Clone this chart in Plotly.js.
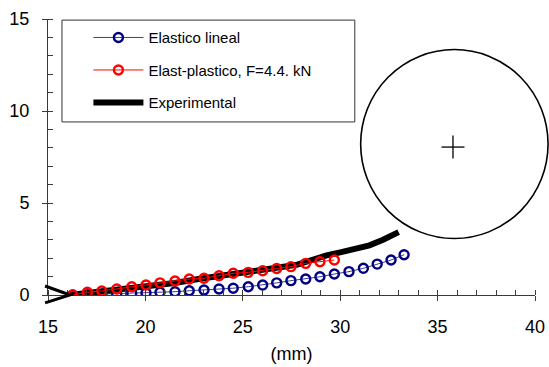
<!DOCTYPE html>
<html>
<head>
<meta charset="utf-8">
<script src="https://cdn.plot.ly/plotly-3.0.1.min.js"></script>
<style>html,body{margin:0;padding:0;background:#fff;}#chart{width:549px;height:367px;}</style>
</head>
<body>
<div id="chart"></div>
<script>
// ---- data ----
var xElastico = [16.27,17.02,17.76,18.53,19.30,20.03,20.75,21.52,22.25,23.01,23.78,24.51,25.28,26.02,26.74,27.47,28.23,28.96,29.70,30.45,31.19,31.90,32.61,33.28];
var yElastico = [0.00,0.02,0.04,0.06,0.09,0.12,0.15,0.18,0.23,0.27,0.33,0.37,0.45,0.54,0.66,0.78,0.87,0.99,1.14,1.27,1.45,1.68,1.90,2.19];
var xPlastico = [16.27,17.02,17.76,18.53,19.30,20.03,20.75,21.52,22.25,23.01,23.78,24.51,25.28,26.02,26.74,27.47,28.23,28.96,29.70];
var yPlastico = [0.00,0.15,0.22,0.33,0.45,0.54,0.66,0.76,0.87,0.91,1.05,1.18,1.23,1.32,1.44,1.54,1.72,1.81,1.90];
var xExperimental = [16.13,17.0,18.5,20.0,21.5,22.8,24.0,25.0,26.0,27.0,27.8,28.5,29.3,30.0,30.8,31.5,32.2,33.0];
var yExperimental = [0.00,0.10,0.27,0.45,0.65,0.88,1.05,1.17,1.35,1.52,1.65,1.90,2.15,2.32,2.50,2.70,3.00,3.42];
var seriesNames = ["Elastico lineal", "Elast-plastico, F=4.4. kN", "Experimental"];
var xTickVals = [15,20,25,30,35,40];
var yTickVals = [0,5,10,15];
var xRange = [15,40];
var yRange = [0,15];
// decorations (data units)
var circleBox = {x0:31.05, x1:40.67, y0:3.07, y1:13.34};
var crossCenter = {x:35.79, y:8.04, dx:0.59, dy:0.625};
var wedge = {xBack:14.85, xTip:16.13, yTop:0.49, yTip:0, yBot:-0.43};

function px(v){ return (v - xRange[0])/(xRange[1]-xRange[0]); }
function py(v){ return (v - yRange[0])/(yRange[1]-yRange[0]); }

var FONT = "Arial, 'Liberation Sans', sans-serif";
var AX = "#3a3a3a";

var traces = [
  {x:xElastico, y:yElastico, name:seriesNames[0], type:"scatter", mode:"lines+markers",
   line:{color:"#3a3a9a", width:1},
   marker:{symbol:"circle-open", size:9, color:"#000080", line:{width:2.4, color:"#000080"}},
   legendgroup:"a", legendrank:1, hoverinfo:"skip"},
  {x:xExperimental, y:yExperimental, name:seriesNames[2], type:"scatter", mode:"lines",
   line:{color:"#000000", width:6},
   legendgroup:"c", legendrank:3, hoverinfo:"skip"},
  {x:xPlastico, y:yPlastico, name:seriesNames[1], type:"scatter", mode:"lines+markers",
   line:{color:"#ff0000", width:1},
   marker:{symbol:"circle-open", size:9, color:"#ff0000", line:{width:2.4, color:"#ff0000"}},
   legendgroup:"b", legendrank:2, hoverinfo:"skip"},
  {x:[xRange[0]], y:[yRange[0]], xaxis:"x2", yaxis:"y2", type:"scatter", mode:"markers",
   marker:{opacity:0}, showlegend:false, hoverinfo:"skip"}
];

var shapes = [
  {type:"rect", xref:"paper", yref:"paper", x0:0.0287, x1:0.630, y0:0.627, y1:0.996,
   line:{color:"#333", width:1}, fillcolor:"rgba(0,0,0,0)", layer:"below"},
  {type:"circle", xref:"paper", yref:"paper", x0:px(circleBox.x0), x1:px(circleBox.x1),
   y0:py(circleBox.y0), y1:py(circleBox.y1), line:{color:"#000", width:1.6}},
  {type:"line", xref:"paper", yref:"paper", x0:px(crossCenter.x-crossCenter.dx), x1:px(crossCenter.x+crossCenter.dx),
   y0:py(crossCenter.y), y1:py(crossCenter.y), line:{color:"#000", width:1.3}},
  {type:"line", xref:"paper", yref:"paper", x0:px(crossCenter.x), x1:px(crossCenter.x),
   y0:py(crossCenter.y-crossCenter.dy), y1:py(crossCenter.y+crossCenter.dy), line:{color:"#000", width:1.3}},
  {type:"path", xref:"paper", yref:"paper",
   path:"M"+px(wedge.xBack)+","+py(wedge.yTop)+" L"+px(wedge.xTip)+","+py(wedge.yTip)+" L"+px(wedge.xBack)+","+py(wedge.yBot),
   line:{color:"#000", width:3}}
];

var layout = {
  width:549, height:367,
  margin:{l:48, r:14, t:19, b:72, pad:0},
  paper_bgcolor:"#fff", plot_bgcolor:"#fff",
  font:{family:FONT, color:"#000"},
  showlegend:true,
  legend:{x:0.083, y:0.992, xanchor:"left", yanchor:"top", bgcolor:"rgba(0,0,0,0)",
    borderwidth:0, font:{family:FONT, size:15, color:"#000"}, traceorder:"grouped",
    tracegroupgap:10, itemwidth:50},
  xaxis:{range:xRange, tickvals:xTickVals, ticks:"outside", ticklen:5, tickwidth:1, tickcolor:AX,
    showline:true, linecolor:AX, linewidth:1, showgrid:false, zeroline:false,
    tickfont:{family:FONT, size:18, color:"#000"}, ticklabelstandoff:10,
    minor:{dtick:1, ticks:"inside", ticklen:5, tickcolor:AX, tickwidth:1, showgrid:false},
    title:{text:"(mm)", font:{family:FONT, size:18, color:"#000"}, standoff:11}},
  yaxis:{range:yRange, tickvals:yTickVals, ticks:"outside", ticklen:5, tickwidth:1, tickcolor:AX,
    showline:true, linecolor:AX, linewidth:1, showgrid:false, zeroline:false,
    tickfont:{family:FONT, size:18, color:"#000"}, ticklabelstandoff:9,
    minor:{dtick:1, ticks:"inside", ticklen:5, tickcolor:AX, tickwidth:1, showgrid:false}},
  xaxis2:{range:xRange, overlaying:"x", anchor:"y2", tickvals:xTickVals, ticks:"inside", ticklen:5,
    tickcolor:AX, showticklabels:false, showline:false, showgrid:false, zeroline:false},
  yaxis2:{range:yRange, overlaying:"y", anchor:"x2", tickvals:yTickVals, ticks:"inside", ticklen:5,
    tickcolor:AX, showticklabels:false, showline:false, showgrid:false, zeroline:false},
  shapes:shapes
};

Plotly.newPlot("chart", traces, layout, {staticPlot:true, displayModeBar:false});
</script>
</body>
</html>
